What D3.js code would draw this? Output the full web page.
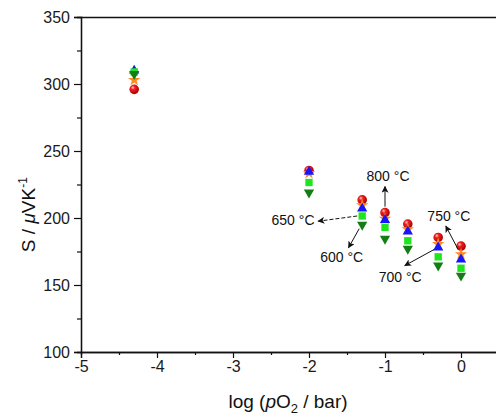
<!DOCTYPE html>
<html>
<head>
<meta charset="utf-8">
<script src="https://cdn.jsdelivr.net/npm/d3@7"></script>
<style>
  body { margin: 0; background: #fff; }
  svg { display: block; font-family: Arial, "Liberation Sans", sans-serif; }
</style>
</head>
<body>
<div class="Canvas"></div>
<script>
// log(pO2) positions and Seebeck values per temperature
const pO2 = [-4.3, -2, -1.3, -1, -0.7, -0.3, 0];
const s600 = [307.5, 219, 195, 184.5, 177, 164.5, 157];
const s650 = [309, 226.5, 201.5, 193, 183, 171, 162.5];
const s700 = [310, 234.5, 207, 198.5, 190, 178, 169];
const s750 = [303, 233.5, 209.5, 199.5, 191.5, 180.5, 173];
const s800 = [296, 235.5, 213.5, 204, 195.5, 185.5, 179];

const xTicks = [-5, -4, -3, -2, -1, 0];
const yTicks = [100, 150, 200, 250, 300, 350];

const width = 496;
const height = 416;
const margin = { left: 81, top: 17, bottom: 64 };

const x = d3.scaleLinear().domain([-5, 0.5]).range([margin.left, margin.left + 5.5 * 76]);
const y = d3.scaleLinear().domain([100, 350]).range([height - margin.bottom, margin.top]);

const svg = d3.select('.Canvas').append('svg').attr('width', width).attr('height', height);

const defs = svg.append('defs');
let grad = defs.append('radialGradient').attr('id', 'ball').attr('cx', '40%').attr('cy', '38%').attr('r', '60%').attr('fx', '35%').attr('fy', '30%');
grad.append('stop').attr('offset', '0%').attr('stop-color', '#ffd0d0');
grad.append('stop').attr('offset', '35%').attr('stop-color', '#f22020');
grad.append('stop').attr('offset', '100%').attr('stop-color', '#b00000');

defs.append('marker')
    .attr('id', 'arrow')
    .attr('viewBox', '0 0 10 10')
    .attr('refX', 9)
    .attr('refY', 5)
    .attr('markerWidth', 7)
    .attr('markerHeight', 7)
    .attr('markerUnits', 'userSpaceOnUse')
    .attr('orient', 'auto')
    .append('path')
    .attr('d', 'M0,0 L10,5 L0,10 L2.5,5 Z')
    .attr('fill', '#111');

// axes (plain hyphen for negatives, like the original)
svg.append('g')
    .attr('transform', `translate(0,${y(100)})`)
    .call(d3.axisBottom(x).tickValues(xTicks).tickSize(6).tickPadding(3).tickFormat((d) => String(d)));
svg.append('g')
    .attr('transform', `translate(0,${y(100)})`)
    .call(d3.axisBottom(x).tickValues(d3.range(-4.5, 0.5, 1)).tickSize(3).tickFormat(''));
svg.append('g')
    .attr('transform', `translate(${x(-5)},0)`)
    .call(d3.axisLeft(y).tickValues(yTicks).tickSize(7).tickPadding(4));
svg.append('g')
    .attr('transform', `translate(${x(-5)},0)`)
    .call(d3.axisLeft(y).tickValues(d3.range(125, 350, 50)).tickSize(4).tickFormat(''));
svg.append('g')
    .attr('transform', `translate(0,${y(350)})`)
    .call(d3.axisTop(x).tickValues([]).tickSizeOuter(0));

svg.selectAll('.domain').attr('stroke', '#111').attr('stroke-width', 1.3);
svg.selectAll('.tick line').attr('stroke', '#111').attr('stroke-width', 1.2);
svg.selectAll('.tick text').attr('font-size', '16px').attr('fill', '#1a1a1a').attr('font-family', 'Arial, "Liberation Sans", sans-serif');

// axis titles
const xt = svg.append('text')
    .attr('x', (x(-5) + x(0.5)) / 2 - 2)
    .attr('y', 408)
    .attr('text-anchor', 'middle')
    .attr('font-size', '19px')
    .attr('fill', '#111');
xt.append('tspan').text('log (');
xt.append('tspan').attr('font-style', 'italic').text('p');
xt.append('tspan').text('O');
xt.append('tspan').attr('font-size', '13px').attr('dy', 5).text('2');
xt.append('tspan').attr('dy', -5).text(' / bar)');

const yt = svg.append('text')
    .attr('transform', `translate(35,${(y(235) + y(170)) / 2}) rotate(-90)`)
    .attr('text-anchor', 'middle')
    .attr('font-size', '19px')
    .attr('fill', '#111');
yt.append('tspan').text('S / ');
yt.append('tspan').attr('font-style', 'italic').text('μ');
yt.append('tspan').text('VK');
yt.append('tspan').attr('font-size', '12px').attr('dy', -8).text('-1');

// series drawn back-to-front
const series = [
    { name: '800', values: s800, type: d3.symbolCircle, size: 72, fill: 'url(#ball)', rot: 0 },
    { name: '750', values: s750, type: d3.symbolStar, size: 48, fill: '#ff8a1e', rot: 0 },
    { name: '700', values: s700, type: d3.symbolTriangle, size: 46, fill: '#1515ff', rot: 0 },
    { name: '650', values: s650, type: d3.symbolSquare, size: 54, fill: '#1ee61e', rot: 0 },
    { name: '600', values: s600, type: d3.symbolTriangle, size: 46, fill: '#157d15', rot: 180 },
];

series.forEach((s) => {
    svg.append('g')
        .selectAll('path')
        .data(s.values.map((v, i) => ({ x: pO2[i], y: v })))
        .enter()
        .append('path')
        .attr('d', d3.symbol().type(s.type).size(s.size))
        .attr('fill', s.fill)
        .attr('transform', (d) => `translate(${x(d.x)},${y(d.y)}) rotate(${s.rot})`);
});

// annotations: text position and arrow end in data units, arrow start at a data point
const notes = [
    { text: '800 °C', tx: -0.96, ty: 231, from: [pO2[3], s800[3]], dx: 0, dy: -6, to: [-1, 223.5], dash: false },
    { text: '650 °C', tx: -2.21, ty: 198.3, from: [pO2[2], s650[2]], dx: -5, dy: 0, to: [-1.88, 197.6], dash: true },
    { text: '600 °C', tx: -1.57, ty: 171, from: [pO2[2], s600[2]], dx: -3, dy: 4, to: [-1.48, 177.8], dash: false },
    { text: '700 °C', tx: -0.80, ty: 156, from: [pO2[5], s700[5]], dx: -4, dy: 2, to: [-0.74, 164.5], dash: false },
    { text: '750 °C', tx: -0.16, ty: 201.5, from: [pO2[6], s750[6]], dx: -3, dy: -5, to: [-0.2, 194], dash: false },
];

notes.forEach((n) => {
    svg.append('line')
        .attr('x1', x(n.from[0]) + n.dx)
        .attr('y1', y(n.from[1]) + n.dy)
        .attr('x2', x(n.to[0]))
        .attr('y2', y(n.to[1]))
        .attr('stroke', '#111')
        .attr('stroke-width', 1)
        .attr('stroke-dasharray', n.dash ? '4,2' : null)
        .attr('marker-end', 'url(#arrow)');
    svg.append('text')
        .attr('x', x(n.tx))
        .attr('y', y(n.ty))
        .attr('text-anchor', 'middle')
        .attr('dominant-baseline', 'central')
        .attr('font-size', '14px')
        .attr('fill', '#111')
        .text(n.text);
});
</script>
</body>
</html>
